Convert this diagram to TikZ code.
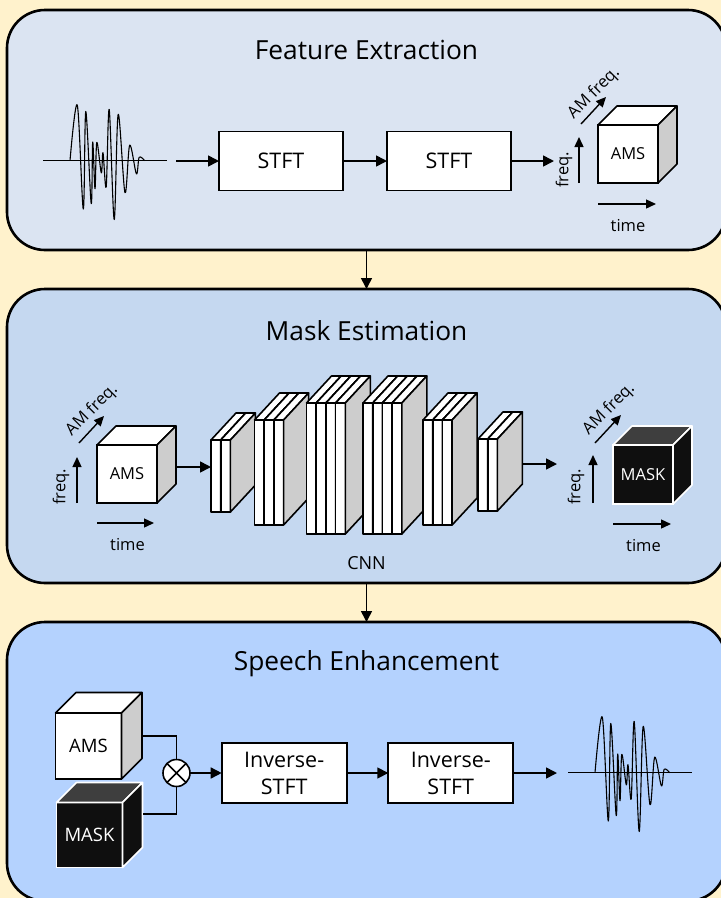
\documentclass[tikz,border=0pt]{standalone}
\usepackage{fontspec}
\setmainfont{Open Sans}
\usetikzlibrary{arrows.meta,calc}

\definecolor{cream}{RGB}{255,242,204}
\definecolor{paneA}{RGB}{219,228,242}
\definecolor{paneB}{RGB}{197,216,240}
\definecolor{paneC}{RGB}{180,210,254}
\definecolor{sidegray}{RGB}{205,205,205}
\definecolor{maskfront}{RGB}{15,15,15}
\definecolor{masktop}{RGB}{62,62,62}

% top and side faces of a cube whose front face is node #1
\newcommand\cubeshade[5]{%
  \draw[line width=1.6pt, line join=round, draw=#5, fill=#3]
    (#1.north west) -- ++(#2,-#2) -- ($(#1.north east)+(#2,-#2)$) -- (#1.north east) -- cycle;
  \draw[line width=1.6pt, line join=round, draw=#5, fill=#4]
    (#1.north east) -- ++(#2,-#2) -- ($(#1.south east)+(#2,-#2)$) -- (#1.south east) -- cycle;
}

% a CNN layer: #5 slabs side by side, front face from x=#2, y=#3..#4
\newcommand\cnnblock[5]{%
  \foreach \i in {1,...,#5}{%
    \pgfmathsetmacro\xl{#2+(\i-1)*9.7}%
    \pgfmathsetmacro\xr{#2+\i*9.7}%
    \draw[slab, fill=white] (\xl,#3) rectangle (\xr,#4);
    \draw[slab, fill=white] (\xl,#3) -- (\xl+25,#3-27) -- (\xr+25,#3-27) -- (\xr,#3) -- cycle;
    \draw[slab, fill=sidegray] (\xr,#3) -- (\xr+25,#3-27) -- (\xr+25,#4-27) -- (\xr,#4) -- cycle;
  }%
  \node[inner sep=0, outer sep=0, anchor=north west, minimum width=#5*9.7pt,
        minimum height=#4pt-#3pt] (#1) at (#2,#3) {};
}

% speech waveform around its own origin
\newcommand\speechwave{%
  \draw[line width=1.3pt] (-27,0) -- (97,0);
  \draw[line width=1.1pt, line join=round] plot[smooth, tension=0.55] coordinates {
    (0,0) (7.3,-55.5) (13.3,48.3) (15.8,-49.2) (21.2,42.8) (22.7,-18.7) (25,28)
    (26.8,-18.3) (31.3,12.2) (33,-8) (36.2,26.2) (39.2,-51.2) (44.2,58.8)
    (48.2,-46.4) (55,32) (59.7,-15.5) (66.4,13.2) (69.2,-3.4) (74.6,0)};
}

\begin{document}
\begin{tikzpicture}[x=1pt, y=-1pt,
  panel/.style={draw=black, line width=2.6pt, rounded corners=38pt,
    minimum width=719pt, inner sep=0, outer sep=0},
  title/.style={font=\fontsize{26.3}{30}\selectfont, inner sep=0},
  procbox/.style={draw, line width=1.8pt, fill=white, minimum width=124pt,
    minimum height=59pt, inner sep=0, outer sep=0, align=center,
    font=\fontsize{21.5}{27}\selectfont},
  arr/.style={line width=1.6pt, -{Triangle[length=11pt,width=11pt]}},
  axarr/.style={line width=1.4pt, -{Triangle[length=10pt,width=9pt]}},
  lbl/.style={font=\fontsize{16.5}{20}\selectfont, inner sep=0},
  cubefront/.style={draw, line width=1.6pt, fill=white, inner sep=0, outer sep=0,
    font=\fontsize{16.5}{20}\selectfont},
  maskfront/.style={cubefront, draw=white, fill=maskfront, text=white},
  slab/.style={line width=1.6pt, line join=round},
  line/.style={line width=1.6pt}
]
\useasboundingbox (0,0) rectangle (721,898);
\clip (0,0) rectangle (721,898);
\fill[cream] (0,0) rectangle (721,898);

% ---------- panels ----------
\node[panel, fill=paneA, minimum height=240pt] (pFE) at (366.5,130) {};
\node[panel, fill=paneB, minimum height=294pt] (pME) at (366.5,436) {};
\node[panel, fill=paneC, minimum height=279pt] (pSE) at (366.5,761.5) {};
\draw[arr] (pFE.south) -- (pME.north);
\draw[arr] (pME.south) -- (pSE.north);

\node[title] (tFE) at (366.5,50) {Feature Extraction};
\node[title] (tME) at (366.5,331) {Mask Estimation};
\node[title] (tSE) at (366.5,664) {Speech Enhancement};

% ---------- feature extraction ----------
\begin{scope}[shift={(70,160.7)}]
  \speechwave
\end{scope}
\coordinate (w1out) at (176,161);
\node[procbox] (stft1) at (281,161) {STFT};
\node[procbox] (stft2) at (449,161) {STFT};
\coordinate (c1in) at (554,161);
\draw[arr] (w1out) -- (stft1.west);
\draw[arr] (stft1.east) -- (stft2.west);
\draw[arr] (stft2.east) -- (c1in);

\node[cubefront, minimum width=60pt, minimum height=58pt] (ams1) at (628,154) {AMS};
\cubeshade{ams1}{19}{white}{sidegray}{black}
\coordinate (f1a) at (579,183); \coordinate (f1b) at (579,137);
\draw[axarr] (f1a) -- (f1b);
\node[lbl, rotate=90] (f1l) at (564,170) {freq.};
\coordinate (m1a) at (581,124); \coordinate (m1b) at (606,97);
\draw[axarr] (m1a) -- (m1b);
\node[lbl, rotate=45] (m1l) at (594,93) {AM freq.};
\coordinate (t1a) at (598,204); \coordinate (t1b) at (656,204);
\draw[axarr] (t1a) -- (t1b);
\node[lbl] (t1l) at (628,226) {time};

% ---------- mask estimation ----------
\node[cubefront, minimum width=60pt, minimum height=58pt] (ams2) at (127,474) {AMS};
\cubeshade{ams2}{19}{white}{sidegray}{black}
\coordinate (f2a) at (77,503); \coordinate (f2b) at (77,457);
\draw[axarr] (f2a) -- (f2b);
\node[lbl, rotate=90] (f2l) at (61,487) {freq.};
\coordinate (m2a) at (79,443); \coordinate (m2b) at (104,416);
\draw[axarr] (m2a) -- (m2b);
\node[lbl, rotate=45] (m2l) at (92,410) {AM freq.};
\coordinate (t2a) at (97,523); \coordinate (t2b) at (154,523);
\draw[axarr] (t2a) -- (t2b);
\node[lbl] (t2l) at (127.5,545) {time};

\cnnblock{cnn1}{211}{440}{512}{2}
\cnnblock{cnn2}{254.5}{420}{525}{3}
\cnnblock{cnn3}{306.5}{403}{534}{4}
\cnnblock{cnn4}{363}{403}{534}{4}
\cnnblock{cnn5}{423}{420}{525}{3}
\cnnblock{cnn6}{478}{439}{511}{2}
\node[lbl, font=\fontsize{18}{22}\selectfont] (cnnl) at (366.5,563) {CNN};

\coordinate (a2out) at (176,467);
\draw[arr] (a2out) -- (a2out -| cnn1.west);
\coordinate (c6out) at (522.5,464);
\coordinate (mk2in) at (557,464);
\draw[arr] (c6out) -- (mk2in);

\node[maskfront, minimum width=60pt, minimum height=59pt] (mask2) at (643,474.5) {MASK};
\cubeshade{mask2}{19}{masktop}{maskfront}{white}
\coordinate (f3a) at (593,503); \coordinate (f3b) at (593,455);
\draw[axarr] (f3a) -- (f3b);
\node[lbl, rotate=90] (f3l) at (576,487) {freq.};
\coordinate (m3a) at (595,443); \coordinate (m3b) at (621,415);
\draw[axarr] (m3a) -- (m3b);
\node[lbl, rotate=45] (m3l) at (609,409) {AM freq.};
\coordinate (t3a) at (613,524); \coordinate (t3b) at (671,524);
\draw[axarr] (t3a) -- (t3b);
\node[lbl] (t3l) at (643.5,546) {time};

% ---------- speech enhancement ----------
\node[cubefront, minimum width=66pt, minimum height=66pt,
      font=\fontsize{18.5}{22}\selectfont] (ams3) at (88.5,746) {AMS};
\cubeshade{ams3}{20.5}{white}{sidegray}{black}
\node[maskfront, minimum width=66pt, minimum height=65pt,
      font=\fontsize{18.5}{22}\selectfont] (mask3) at (89.5,835) {MASK};
\cubeshade{mask3}{20}{masktop}{maskfront}{white}

\node[draw, circle, line width=1.6pt, fill=white, minimum size=27pt, inner sep=0,
      outer sep=0] (mul) at (176.5,773) {};
\draw[line width=1.6pt] (mul.north east) -- (mul.south west)
                        (mul.north west) -- (mul.south east);
\coordinate (amsout) at (143,736);
\coordinate (maskout) at (143,814);
\draw[line] (amsout) -| (mul.north);
\draw[line] (maskout) -| (mul.south);

\node[procbox, minimum width=125pt, minimum height=60pt] (inv1) at (284.2,773) {Inverse-\\STFT};
\node[procbox, minimum width=125pt, minimum height=60pt] (inv2) at (450.8,773) {Inverse-\\STFT};
\coordinate (w2in) at (557,773);
\draw[arr] (mul.east) -- (inv1.west);
\draw[arr] (inv1.east) -- (inv2.west);
\draw[arr] (inv2.east) -- (w2in);

\begin{scope}[shift={(595,772.7)}]
  \speechwave
\end{scope}
\end{tikzpicture}
\end{document}
